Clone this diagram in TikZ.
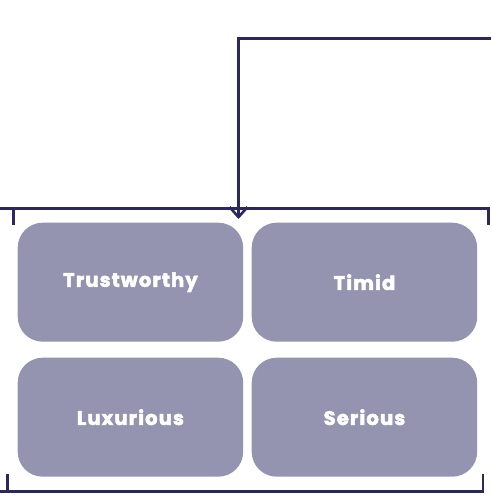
\documentclass[tikz,border=0pt]{standalone}
\usepackage{fontspec}
\setmainfont{Poppins}[BoldFont={* Bold},BoldFeatures={FakeBold=2.6,LetterSpace=6}]
\usetikzlibrary{arrows.meta}
\definecolor{navy}{HTML}{2B285F}
\definecolor{tile}{HTML}{9494B0}
\begin{document}
\begin{tikzpicture}[x=1pt,y=-1pt,
  tilebox/.style={fill=tile,draw=none,rounded corners=25pt,minimum width=225.5pt,minimum height=119pt,anchor=north west,
    font=\fontsize{19.5}{22}\selectfont\bfseries,text=white,inner sep=0pt},
  wire/.style={draw=navy,line width=2.6pt}]
\useasboundingbox (0,0) rectangle (491,497);
% four trait tiles
\node[tilebox] (trust) at (17.5,222.5) {Trustworthy};
\node[tilebox] (timid) at (251.5,222.5) {Timid};
\node[tilebox] (lux) at (17.5,357.5) {Luxurious};
\node[tilebox] (ser) at (251.5,357.5) {Serious};
% brackets above and below the grid
\coordinate (tl) at (13.5,225);
\coordinate (tr) at (488.5,225);
\draw[wire,line cap=butt] (tl) |- (0,208.5) -| (tr);
\coordinate (bl) at (7.5,474);
\coordinate (br) at (483,474);
\draw[wire] (bl) |- (0,491.5) -| (br);
% feed line entering from the right
\coordinate (src) at (491,38.5);
\coordinate (tip) at (238.5,219);
\draw[wire,-{Straight Barb[length=10pt,width=18pt,line width=2.6pt]}] (src) -| (tip);
\end{tikzpicture}
\end{document}
